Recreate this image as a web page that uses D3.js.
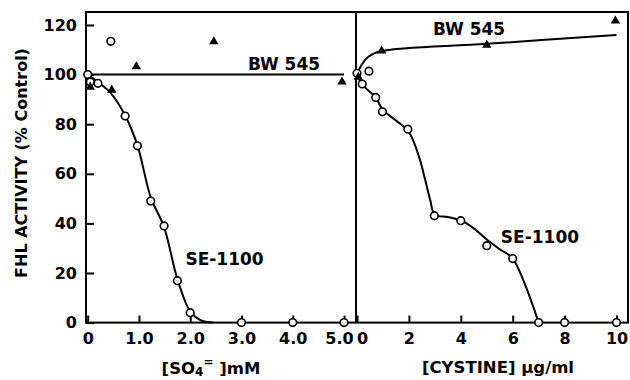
<!DOCTYPE html>
<html><head><meta charset="utf-8">
<script src="https://cdn.jsdelivr.net/npm/d3@7"></script>
<style>body{margin:0;background:#fff}svg text{font-family:"DejaVu Sans",sans-serif;font-weight:bold;fill:#000}</style>
</head><body><svg id="c" width="630" height="380"></svg>
<script>
// ---- data ----
const yTicks = [0, 20, 40, 60, 80, 100, 120];
const leftTicks = [0, 1, 2, 3, 4, 5];
const leftTickLabels = ["0", "1.0", "2.0", "3.0", "4.0", "5.0"];
const rightTicks = [0, 2, 4, 6, 8, 10];
const rightTickLabels = ["0", "2", "4", "6", "8", "10"];

// left panel: sulfate (mM)
const leftSEPoints = [[0,100],[0.05,97],[0.2,96.5],[0.45,113.4],[0.73,83.3],[0.97,71.3],[1.23,49],[1.49,39],[1.75,16.9],[2.0,4],[3,0],[4,0],[5,0]];
const leftBWPoints = [[0.05,95],[0.47,93.8],[0.95,103.2],[2.46,113.3],[4.96,97.1]];
const leftSECurve = [[0,100],[0.2,97],[0.45,92.5],[0.73,83.5],[0.97,71.5],[1.23,50.5],[1.49,38.5],[1.75,17.5],[2.0,4.5],[2.2,1],[2.45,0]];
const leftBWCurve = [[0,100],[5,100]];

// right panel: cystine (ug/ml)
const rightSEPoints = [[0,100.5],[0.2,96.2],[0.46,101.4],[0.72,90.8],[0.98,85],[1.96,78],[2.98,43.1],[4,41.1],[5,31],[6,25.8],[7,0],[8,0],[10,0]];
const rightBWPoints = [[0.05,99],[0.95,109.6],[5,111.9],[9.96,121.7]];
const rightSECurve = [[0,100],[0.2,96],[0.72,90.8],[0.98,86],[1.5,81.5],[1.96,77.5],[2.2,72.5],[2.43,65.5],[2.63,57.5],[2.82,49.5],[3.0,43.5],[3.5,42.6],[4,41.2],[4.5,38],[5,33.5],[5.5,29.6],[6,25.8],[7,0]];
const rightBWCurve = [[0,100],[0.15,103.5],[0.45,107.3],[0.95,109.5],[5,112.4],[10,116]];

// ---- layout ----
const svg = d3.select("#c");
const frame = {left: 86, right: 628, top: 12, bottom: 322.6, divider: 356};
const y = d3.scaleLinear().domain([0, 120]).range([322.6, 25]);
const x1 = d3.scaleLinear().domain([0, 5]).range([87.7, 344]);
const x2 = d3.scaleLinear().domain([0, 10]).range([357, 616.5]);

const g = svg.append("g");
const lw = 2;
// frame
g.append("rect").attr("x", frame.left).attr("y", frame.top)
  .attr("width", frame.right - frame.left).attr("height", frame.bottom - frame.top)
  .attr("fill", "none").attr("stroke", "#000").attr("stroke-width", lw);
g.append("line").attr("x1", frame.divider).attr("x2", frame.divider)
  .attr("y1", frame.top).attr("y2", frame.bottom).attr("stroke", "#000").attr("stroke-width", lw);

// y axis
const yAxis = d3.axisLeft(y).tickValues(yTicks).tickSize(-8).tickPadding(9);
const ya = g.append("g").attr("transform", `translate(${frame.left},0)`).call(yAxis);
// x axes
const xa1 = g.append("g").attr("transform", `translate(0,${frame.bottom})`)
  .call(d3.axisBottom(x1).tickValues(leftTicks).tickFormat((d,i)=>leftTickLabels[i]).tickSize(-7).tickPadding(10));
const xa2 = g.append("g").attr("transform", `translate(0,${frame.bottom})`)
  .call(d3.axisBottom(x2).tickValues(rightTicks).tickFormat((d,i)=>rightTickLabels[i]).tickSize(-7).tickPadding(10));
[ya, xa1, xa2].forEach(a => {
  a.select(".domain").remove();
  a.selectAll(".tick line").attr("stroke", "#000").attr("stroke-width", lw);
  a.selectAll(".tick text").style("font-size", "16px").attr("fill", "#000");
});
// crowded labels at the panel junction
xa1.selectAll(".tick text").filter(d => d === 5).attr("dx", -5);
xa2.selectAll(".tick text").filter(d => d === 0).attr("dx", 5);

// curves
const line1 = d3.line().x(d => x1(d[0])).y(d => y(d[1])).curve(d3.curveCatmullRom.alpha(0.5));
const line2 = d3.line().x(d => x2(d[0])).y(d => y(d[1])).curve(d3.curveCatmullRom.alpha(0.5));
[[line1, leftSECurve], [line1, leftBWCurve], [line2, rightSECurve], [line2, rightBWCurve]].forEach(([ln, data]) => {
  g.append("path").attr("d", ln(data)).attr("fill", "none").attr("stroke", "#000").attr("stroke-width", lw);
});

// markers
const tri = d3.symbol().type(d3.symbolTriangle).size(38);
function circles(data, xs) {
  g.selectAll(null).data(data).enter().append("circle")
    .attr("cx", d => xs(d[0])).attr("cy", d => y(d[1])).attr("r", 3.8)
    .attr("fill", "#fff").attr("stroke", "#000").attr("stroke-width", 1.6);
}
function triangles(data, xs) {
  g.selectAll(null).data(data).enter().append("path")
    .attr("d", tri).attr("transform", d => `translate(${xs(d[0])},${y(d[1])})`)
    .attr("fill", "#000");
}
circles(leftSEPoints, x1); triangles(leftBWPoints, x1);
circles(rightSEPoints, x2); triangles(rightBWPoints, x2);

// series labels
const lab = (t, xx, yy) => g.append("text").attr("x", xx).attr("y", yy).attr("text-anchor", "middle")
  .attr("dominant-baseline", "central").style("font-size", "17px").text(t);
lab("BW 545", x1(3.83), y(104.3));
lab("SE-1100", x1(2.67), y(25.6));
lab("BW 545", x2(4.32), y(118.4));
lab("SE-1100", x2(7.05), y(34.5));

// axis titles
g.append("text").attr("transform", "translate(21,163) rotate(-90)").attr("text-anchor", "middle")
  .attr("dominant-baseline", "central").style("font-size", "16px").text("FHL ACTIVITY (% Control)");
const t1 = g.append("text").attr("x", 211).attr("y", 368).attr("text-anchor", "middle")
  .attr("dominant-baseline", "central").style("font-size", "16.5px");
t1.append("tspan").text("[SO");
t1.append("tspan").attr("dy", 4).style("font-size", "12px").text("4");
t1.append("tspan").attr("dy", -10).style("font-size", "12px").text("=");
t1.append("tspan").attr("dy", 6).text(" ]mM");
g.append("text").attr("x", 498).attr("y", 367).attr("text-anchor", "middle")
  .attr("dominant-baseline", "central").style("font-size", "16.5px").text("[CYSTINE] μg/ml");
</script></body></html>
